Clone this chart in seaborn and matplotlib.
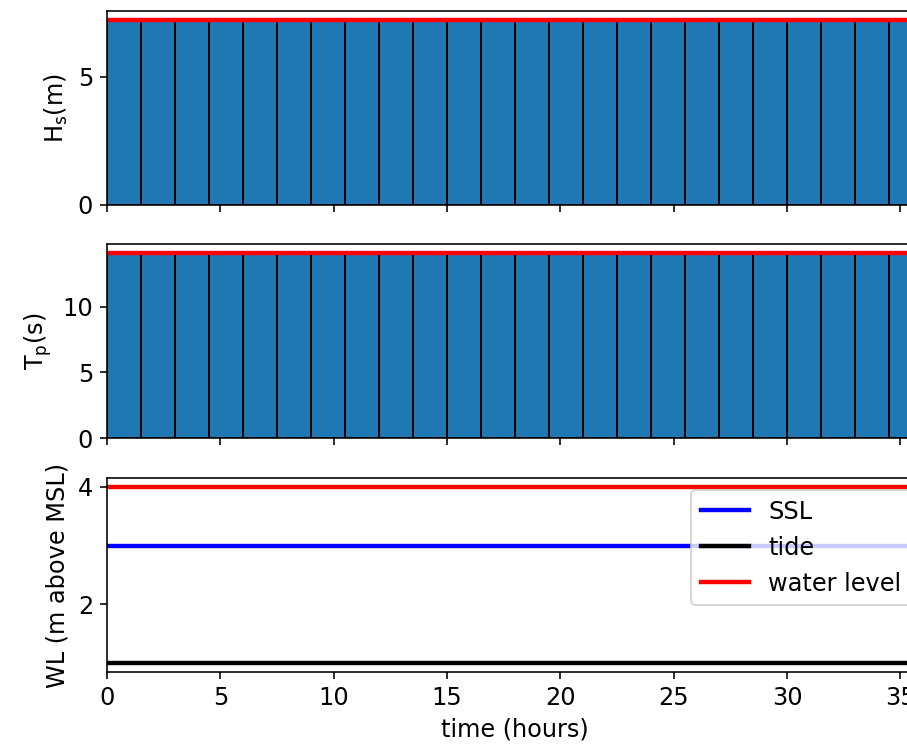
import numpy as np
import pandas as pd
import seaborn as sns
import matplotlib.pyplot as plt

plt.rcParams["font.size"] = 12

# time axis (hours) - bar edges, bars are 1.5 h wide
hours = [0, 1.5, 3, 4.5, 6, 7.5, 9, 10.5, 12, 13.5, 15, 16.5, 18,
         19.5, 21, 22.5, 24, 25.5, 27, 28.5, 30, 31.5, 33, 34.5, 36]
# significant wave height (m)
hs = [7.2] * 25
# peak period (s)
tp = [14.1] * 25
# water levels (m above MSL)
ssl = [3.0] * 25
tide = [1.0] * 25
water_level = [4.0] * 25

df = pd.DataFrame({"time": hours, "Hs": hs, "Tp": tp,
                   "SSL": ssl, "tide": tide, "water level": water_level})
bars = df.iloc[:-1]

fig, axes = plt.subplots(3, 1, sharex=True, figsize=(907 / 144, 747 / 144), dpi=144)
ax1, ax2, ax3 = axes

# wave height panel
sns.histplot(data=bars, x="time", weights="Hs", binwidth=1.5, binrange=(0, 36),
             color="#1f77b4", alpha=1, edgecolor="black", linewidth=1, ax=ax1)
sns.lineplot(data=df, x="time", y="Hs", color="red", linewidth=2.2, ax=ax1)
ax1.set_ylabel(r"$\mathrm{H_s}$(m)")
ax1.set_yticks([0, 5])

# peak period panel
sns.histplot(data=bars, x="time", weights="Tp", binwidth=1.5, binrange=(0, 36),
             color="#1f77b4", alpha=1, edgecolor="black", linewidth=1, ax=ax2)
sns.lineplot(data=df, x="time", y="Tp", color="red", linewidth=2.2, ax=ax2)
ax2.set_ylabel(r"$\mathrm{T_p}$(s)")
ax2.set_yticks([0, 5, 10])

# water level panel
sns.lineplot(data=df, x="time", y="SSL", color="blue", linewidth=2.2, label="SSL", ax=ax3)
sns.lineplot(data=df, x="time", y="tide", color="black", linewidth=2.2, label="tide", ax=ax3)
sns.lineplot(data=df, x="time", y="water level", color="red", linewidth=2.2, label="water level", ax=ax3)
ax3.set_ylabel("WL (m above MSL)")
ax3.set_yticks([2, 4])
ax3.legend(loc="upper right")

for ax in axes:
    ax.set_xlabel("")
ax3.set_xlabel("time (hours)")
ax3.set_xlim(0, 36)
ax3.set_xticks([0, 5, 10, 15, 20, 25, 30, 35])

# axes extend past the right edge (reference image is cropped)
left, width = 107 / 907, 816 / 907
h = 194 / 747
ax1.set_position([left, (747 - 205) / 747, width, h])
ax2.set_position([left, (747 - 438) / 747, width, h])
ax3.set_position([left, (747 - 672) / 747, width, h])

plt.savefig("out.png", dpi=144)
